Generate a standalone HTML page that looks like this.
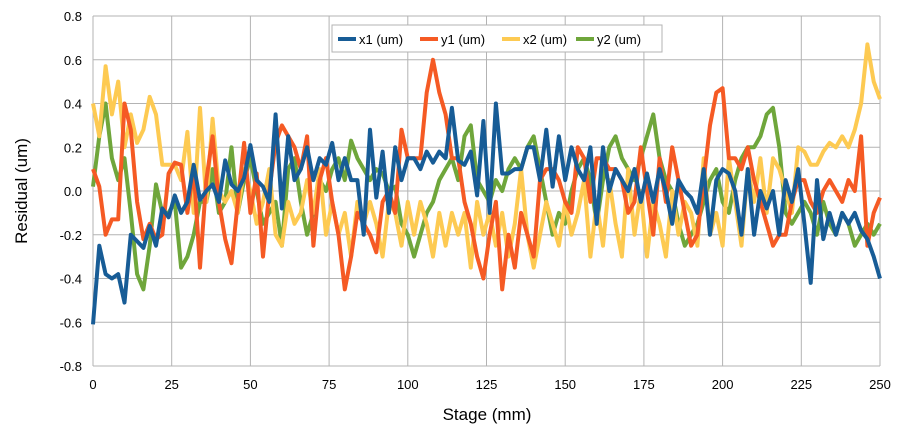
<!DOCTYPE html>
<html><head><meta charset="utf-8"><style>
body{margin:0;background:#fff;font-family:"Liberation Sans",sans-serif}
</style></head><body>
<svg id="chart" width="903" height="441" xmlns="http://www.w3.org/2000/svg" font-family="Liberation Sans, sans-serif">
<g id="grid"></g>
<g id="series"></g>
<g id="axes"></g>
<text x="487" y="420" font-size="17" text-anchor="middle">Stage (mm)</text>
<text transform="translate(27,191) rotate(-90)" font-size="17" text-anchor="middle">Residual (um)</text>
<g>
<rect x="332" y="25" width="330" height="27" fill="#fff" stroke="#b3b3b3"/>
<g id="legend-items"></g>
</g>
</svg>
<script>
const xTicks=[0,25,50,75,100,125,150,175,200,225,250];
const yTicks=[-0.8,-0.6,-0.4,-0.2,0.0,0.2,0.4,0.6,0.8];
const seriesNames=["x1 (um)","y1 (um)","x2 (um)","y2 (um)"];
const x1=[-0.61,-0.25,-0.38,-0.40,-0.38,-0.51,-0.20,-0.23,-0.26,-0.16,-0.25,
-0.08,-0.12,-0.02,-0.10,-0.05,0.12,-0.04,0.00,0.03,-0.05,
0.14,0.03,0.00,0.06,0.21,0.05,0.02,-0.05,0.35,-0.08,
0.25,0.05,0.10,0.20,0.05,0.15,0.12,0.22,0.05,0.15,
0.05,0.05,-0.20,0.28,-0.03,0.18,-0.10,0.20,0.05,0.15,
0.15,0.10,0.18,0.13,0.18,0.15,0.38,0.14,0.12,0.18,
-0.02,0.32,-0.10,0.40,0.08,0.08,0.10,0.10,0.20,0.20,
0.05,0.28,0.02,0.25,0.05,0.20,0.10,0.05,0.20,-0.15,
0.20,0.00,0.10,0.05,0.00,0.10,-0.05,0.08,-0.05,0.10,
0.00,-0.15,0.05,0.00,-0.03,-0.10,0.10,-0.20,0.05,0.10,
0.08,0.00,-0.20,0.10,-0.20,0.00,-0.08,0.00,-0.20,0.05,
-0.05,0.10,-0.15,-0.42,0.05,-0.22,-0.10,-0.20,-0.10,-0.15,
-0.10,-0.18,-0.22,-0.30,-0.40];
const y1=[0.10,0.02,-0.20,-0.13,-0.13,0.40,0.28,-0.05,-0.22,-0.15,-0.22,
-0.20,0.08,0.13,0.12,-0.10,0.10,-0.35,0.05,0.25,-0.05,
-0.22,-0.33,-0.05,0.22,-0.10,0.08,-0.30,0.00,0.22,0.30,
0.25,0.20,0.10,0.25,-0.25,0.05,0.15,-0.05,-0.20,-0.45,
-0.30,-0.10,-0.15,-0.20,-0.28,-0.05,0.00,-0.10,0.28,0.15,
0.15,0.15,0.45,0.60,0.45,0.35,0.15,0.15,-0.05,-0.15,
-0.30,-0.40,-0.20,-0.05,-0.45,-0.20,-0.35,-0.10,-0.20,-0.30,
0.05,0.10,0.10,0.05,-0.05,-0.10,0.20,0.15,-0.05,0.15,
0.15,0.10,0.10,0.05,-0.10,-0.05,0.20,0.00,-0.20,0.15,
-0.05,0.20,0.05,-0.10,-0.25,-0.20,0.05,0.30,0.45,0.47,
0.15,0.15,0.10,0.20,0.05,-0.05,-0.15,-0.25,-0.20,-0.20,
-0.05,0.05,0.05,-0.05,-0.10,0.00,0.05,0.00,-0.05,0.05,
0.00,0.25,-0.25,-0.10,-0.03];
const x2=[0.40,0.25,0.57,0.35,0.50,0.20,0.35,0.22,0.28,0.43,0.35,
0.12,0.12,0.12,0.05,0.27,-0.10,0.38,-0.05,0.33,0.00,
-0.05,0.00,-0.10,0.10,0.00,-0.15,-0.05,0.10,-0.20,-0.25,
-0.05,-0.15,-0.10,0.05,-0.10,0.10,-0.20,-0.05,-0.20,-0.10,
-0.30,-0.05,-0.15,-0.05,-0.15,-0.30,-0.05,-0.10,-0.25,-0.05,
-0.20,-0.05,-0.15,-0.30,-0.10,-0.25,-0.10,-0.20,-0.10,-0.35,
-0.05,-0.20,-0.10,-0.25,-0.10,-0.30,-0.15,0.10,-0.20,-0.35,
-0.20,-0.05,-0.15,-0.25,-0.05,-0.20,-0.10,0.05,-0.30,-0.05,
-0.25,0.05,-0.15,-0.30,0.10,-0.20,0.00,-0.30,-0.05,-0.15,
-0.30,0.00,-0.20,-0.05,-0.10,-0.25,0.15,-0.20,-0.10,-0.25,
0.15,-0.05,-0.25,0.10,-0.05,0.15,-0.10,0.15,0.10,0.00,
-0.10,0.20,0.18,0.12,0.12,0.18,0.22,0.20,0.25,0.20,
0.28,0.40,0.67,0.50,0.42];
const y2=[0.02,0.25,0.40,0.15,0.05,0.15,-0.10,-0.38,-0.45,-0.25,0.03,
-0.10,-0.10,-0.05,-0.35,-0.30,-0.20,-0.05,-0.05,0.10,-0.10,
-0.05,0.20,-0.10,0.05,0.15,0.00,-0.15,-0.10,-0.05,-0.25,
0.10,0.15,-0.05,-0.20,-0.10,0.05,0.00,0.10,0.15,0.05,
0.23,0.15,0.10,0.05,0.10,0.08,0.00,0.02,-0.15,-0.20,
-0.30,-0.20,-0.10,-0.05,0.05,0.10,0.15,0.05,0.25,0.30,
0.05,0.00,-0.05,0.05,0.00,0.10,0.15,0.10,0.20,0.25,
0.10,-0.05,-0.20,-0.10,-0.15,0.00,0.10,0.15,0.05,-0.15,
0.05,0.20,0.25,0.15,0.10,0.05,0.15,0.25,0.35,0.15,
0.05,0.00,-0.15,-0.25,-0.20,-0.15,-0.05,0.05,0.10,-0.05,
-0.10,0.05,0.15,0.20,0.20,0.25,0.35,0.38,0.20,-0.10,
-0.15,-0.10,-0.05,-0.10,-0.20,-0.05,-0.15,-0.20,-0.10,-0.15,
-0.25,-0.20,-0.15,-0.20,-0.15];
const stepMm=2;

const L=93,R=880,T=16,B=366;
const sx=v=>L+(v-0)/(250-0)*(R-L);
const sy=v=>B-(v+0.8)/1.6*(B-T);
const NS="http://www.w3.org/2000/svg";
function mk(tag,attrs,parent){const e=document.createElementNS(NS,tag);for(const k in attrs)e.setAttribute(k,attrs[k]);parent.appendChild(e);return e;}
const grid=document.getElementById('grid'),axes=document.getElementById('axes'),ser=document.getElementById('series');
xTicks.forEach(t=>{
  const l=mk('line',{x1:sx(t),x2:sx(t),y1:T,y2:B,stroke:'#b3b3b3','stroke-width':1},grid);
  
  
  const tx=mk('text',{x:sx(t),y:B+23,'font-size':13,'text-anchor':'middle'},axes);
  tx.textContent=t;
  
  
});
yTicks.forEach(t=>{
  const l=mk('line',{x1:L,x2:R,y1:sy(t),y2:sy(t),stroke:'#b3b3b3','stroke-width':1},grid);
  
  
  const tx=mk('text',{x:L-11,y:sy(t)+5,'font-size':13,'text-anchor':'end'},axes);
  tx.textContent=t.toFixed(1);
  
  
});
const colors=["#175c96","#f55a24","#fdca52","#6fa63b"];
const data=[x1,y1,x2,y2];
[3,2,1,0].forEach(i=>{
  const pts=data[i].map((v,j)=>sx(j*stepMm).toFixed(1)+','+sy(v).toFixed(1)).join(' ');
  const p=mk('polyline',{points:pts,fill:'none',stroke:colors[i],'stroke-width':4,'stroke-linejoin':'round'},ser);
  
  
});
const li=document.getElementById('legend-items');
const lx=[338,420,502,576];
seriesNames.forEach((n,i)=>{
  const g=mk('g',{},li);
  
  
  mk('line',{x1:lx[i],x2:lx[i]+18,y1:39,y2:39,stroke:colors[i],'stroke-width':4},g);
  const t=mk('text',{x:lx[i]+21,y:44,'font-size':13},g);
  t.textContent=n;
});
</script>
</body></html>
